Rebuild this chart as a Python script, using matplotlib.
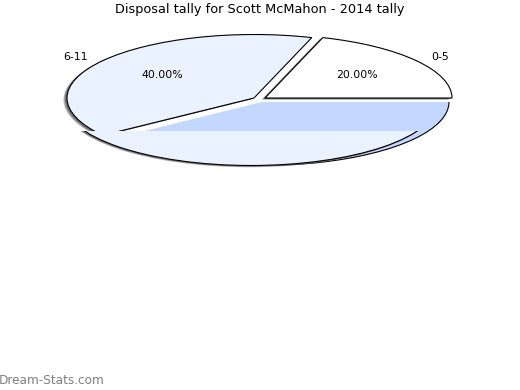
import matplotlib
matplotlib.use("Agg")
import matplotlib.pyplot as plt
from matplotlib.patches import Arc, Wedge, Ellipse, Rectangle
from matplotlib.transforms import Affine2D

title = "Disposal tally for Scott McMahon - 2014 tally"
categories = ["0-5", "6-11", "12+"]
shares = [20.0, 40.0, 40.0]
colors = ["#FFFFFF", "#EAF1FF", "#C3D7FF"]

# centre of each exploded slice, pixels
centers = [(265, 98), (254, 98), (262, 102)]
rx, ry = 187, 63.5
band_top = 131
shadow_steps = [(3.5, 0.45), (2.5, 0.6), (1.5, 0.85)]


def squash(cx, cy):
    return Affine2D().scale(rx, -ry).translate(cx, cy) + ax.transData


fig = plt.figure(figsize=(5.2, 3.9), dpi=100)
ax = fig.add_axes([0, 0, 1, 1])
ax.set_xlim(0, 520)
ax.set_ylim(390, 0)
ax.axis("off")

start = 0
angles = []
for s in shares:
    angles.append((start, start + s * 3.6))
    start += s * 3.6

# third slice at the back, no straight edges on it
cx, cy = centers[2]
a, b = angles[2]
ax.add_patch(Wedge((0, 0), 1, a, b, fc=colors[2], ec="none", transform=squash(cx, cy)))
ax.add_patch(Arc((0, 0), 2, 2, theta1=a, theta2=b, ec="black", lw=0.8, transform=squash(cx, cy)))

for i in [0, 1]:
    cx, cy = centers[i]
    a, b = angles[i]
    for off, al in shadow_steps:
        ax.add_patch(Wedge((0, 0), 1, a, b, fc="#666666", ec="none", alpha=al,
                           transform=squash(cx - off, cy + off * 0.5)))
    ax.add_patch(Wedge((0, 0), 1, a, b, fc=colors[i], ec="black", lw=0.8,
                       transform=squash(cx, cy)))

# pale lower band drawn over the slices
clip = Rectangle((0, band_top), 520, 100, transform=ax.transData)
for off, al in shadow_steps:
    sh = Ellipse((0, 0), 2, 2, fc="#666666", ec="none", alpha=al,
                 transform=squash(251 - off * 0.6, 102 + off * 0.5))
    ax.add_patch(sh)
    sh.set_clip_path(clip)
band = Ellipse((0, 0), 2, 2, fc=colors[1], ec="black", lw=0.8, transform=squash(251, 102))
ax.add_patch(band)
band.set_clip_path(clip)

ax.text(260, 9, title, ha="center", va="center", fontsize=9.3)
ax.text(440, 57, categories[0], ha="center", va="center", fontsize=7.8)
ax.text(75, 57, categories[1], ha="center", va="center", fontsize=7.8)
ax.text(357, 75, f"{shares[0]:.2f}%", ha="center", va="center", fontsize=7.8)
ax.text(162.5, 75, f"{shares[1]:.2f}%", ha="center", va="center", fontsize=7.8)
ax.text(-1, 380, "Dream-Stats.com", ha="left", va="center", fontsize=8.7,
        color="#808080")

fig.savefig("out.png", dpi=100)
